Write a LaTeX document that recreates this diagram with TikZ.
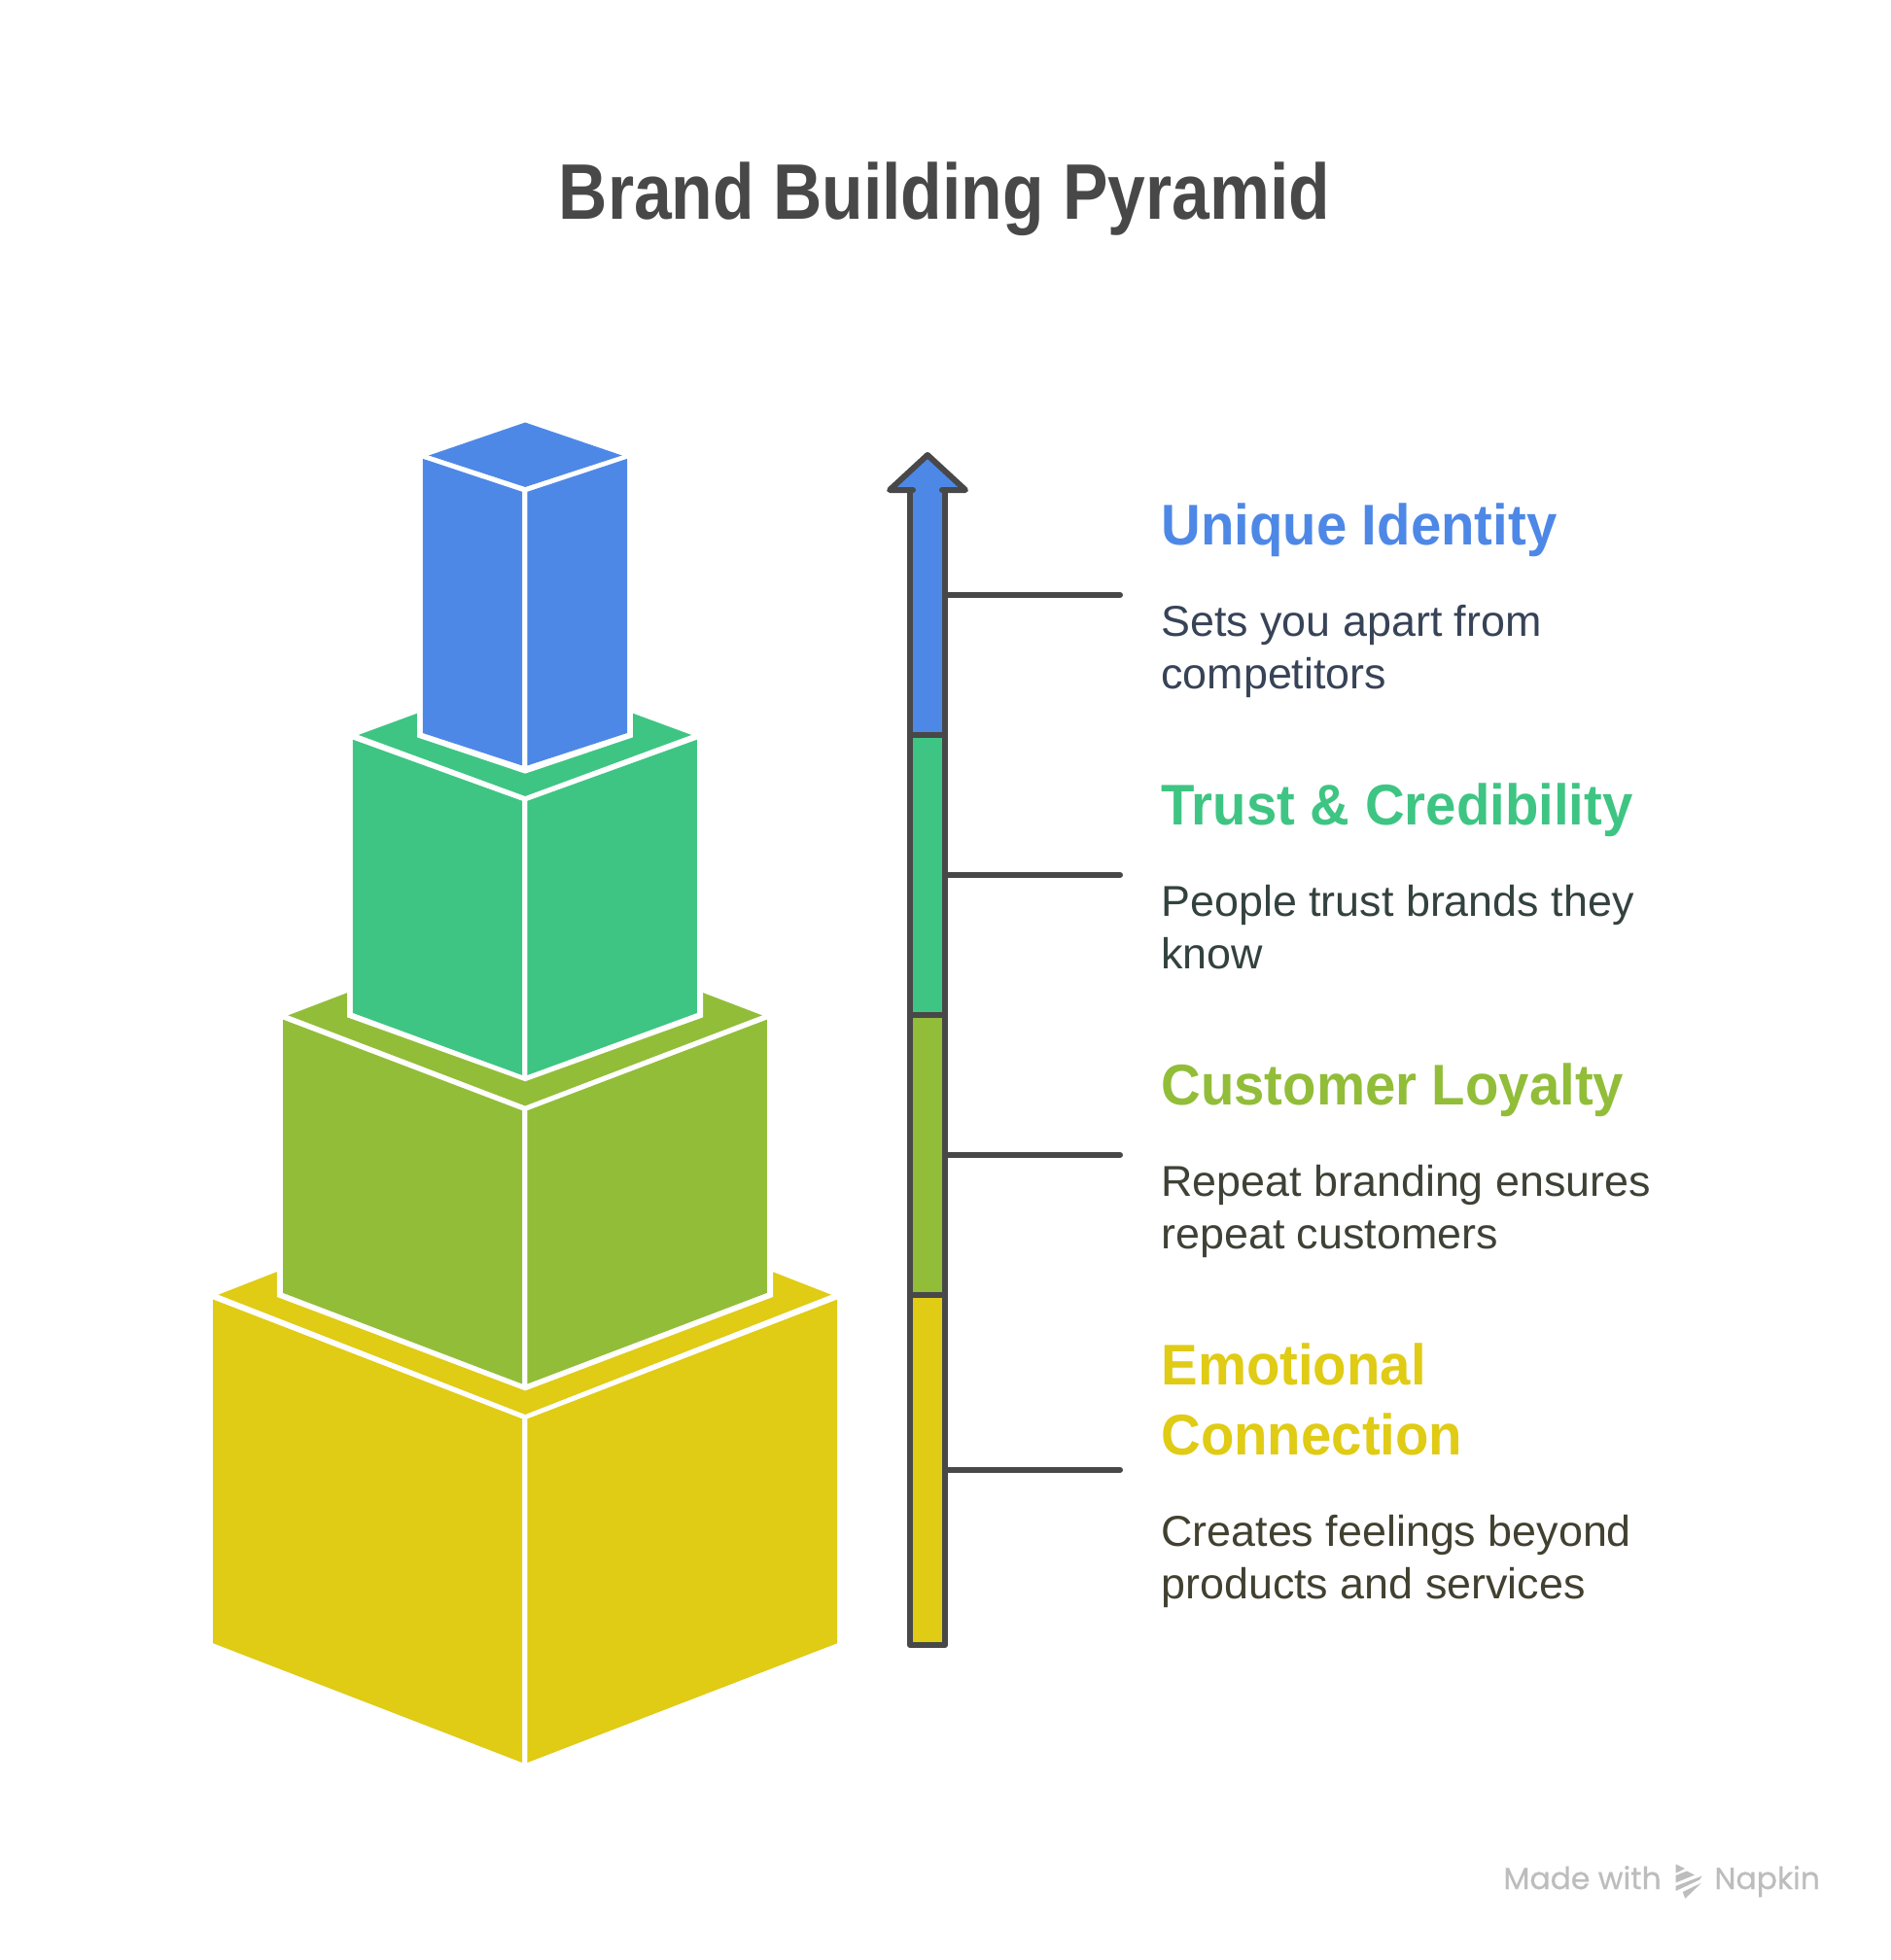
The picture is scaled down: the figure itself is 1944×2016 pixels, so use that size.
\documentclass[tikz,border=0pt]{standalone}
\usepackage{fontspec}
\setmainfont{Liberation Sans}
\newfontfamily\titlefont[FakeStretch=0.86]{Liberation Sans}
\newfontfamily\headfont[FakeStretch=0.955]{Liberation Sans}
\newfontfamily\bodyfont[FakeStretch=1.01]{Liberation Sans}
\newfontfamily\markfont[FakeBold=0.6]{Poppins}
\definecolor{cblue}{HTML}{4E88E7}
\definecolor{cgreen}{HTML}{3EC583}
\definecolor{clime}{HTML}{92BD39}
\definecolor{cyellow}{HTML}{E0CB15}
\definecolor{cdark}{HTML}{484848}
\definecolor{tblue}{HTML}{374357}
\definecolor{tgreen}{HTML}{33423F}
\definecolor{tlime}{HTML}{3E4236}
\definecolor{tyellow}{HTML}{424030}
\definecolor{cmark}{HTML}{BDBDBD}
\tikzset{
  strokeline/.style={draw=cdark,line width=3pt,line cap=round,line join=round},
  headtext/.style={anchor=base west,inner sep=0pt,font=\headfont\bfseries\fontsize{29.5}{36}\selectfont,align=left},
  bodytext/.style={anchor=base west,inner sep=0pt,font=\bodyfont\fontsize{22.2}{27}\selectfont,align=left},
  marktext/.style={anchor=base west,inner sep=0pt,text=cmark,font=\markfont\fontsize{15.7}{18}\selectfont},
  zoomA/.style={x=0.223214pt,y=-0.24237pt,shift={(100pt,-210pt)}},
  zoomB/.style={x=0.223214pt,y=-0.223214pt,shift={(100pt,-575pt)}},
}
\begin{document}
\begin{tikzpicture}[x=0.5pt,y=-0.5pt]
\useasboundingbox (0,0) rectangle (1944,2016);
\fill[white] (0,0) rectangle (1944,2016);
% title
\node[anchor=base,inner sep=0pt,text=cdark,font=\titlefont\bfseries\fontsize{40.5}{48}\selectfont] (title) at (971.5,226) {Brand Building Pyramid};
% yellow block
\begin{scope}[zoomB]
\fill[cyellow] (762,131) -- (1467,407) -- (762,683) -- (55,407) -- cycle;
\fill[cyellow] (43,418) -- (755,693) -- (755,1485) -- (43,1210) -- cycle;
\fill[cyellow] (767,693) -- (1481,418) -- (1481,1210) -- (767,1485) -- cycle;
\fill[white] (190,357) -- (190,412) -- (762,628) -- (1333,412) -- (1333,357) -- (1333,0) -- (190,0) -- cycle;
\end{scope}
% lime, green and blue blocks
\begin{scope}[zoomA]
\fill[clime] (762,1096) -- (1308,1288) -- (762,1480) -- (216,1288) -- cycle;
\fill[white] (352,1240) -- (352,1292) -- (762,1428) -- (1172,1292) -- (1172,1240) -- (1172,1000) -- (352,1000) -- cycle;
\fill[clime] (204,1297) -- (755,1490) -- (755,2070) -- (204,1877) -- cycle;
\fill[clime] (767,1490) -- (1319,1297) -- (1319,1877) -- (767,2070) -- cycle;
\fill[cgreen] (762,563) -- (1145,693) -- (762,823) -- (378,693) -- cycle;
\fill[white] (513,647) -- (513,698) -- (762,775) -- (1010,698) -- (1010,647) -- (1010,500) -- (513,500) -- cycle;
\fill[cgreen] (365,703) -- (755,833) -- (755,1415) -- (365,1283) -- cycle;
\fill[cgreen] (767,833) -- (1158,703) -- (1158,1283) -- (767,1415) -- cycle;
\fill[cblue] (762,30) -- (985,100) -- (762,167) -- (540,100) -- cycle;
\fill[cblue] (526,107) -- (755,177) -- (755,758) -- (526,689) -- cycle;
\fill[cblue] (767,177) -- (997,107) -- (997,689) -- (767,758) -- cycle;
\end{scope}
% arrow fills
\fill[cblue] (936,756) -- (936,504) -- (915,504) -- (954,468) -- (993,504) -- (972,504) -- (972,756) -- cycle;
\fill[cgreen] (936,756) rectangle (972,1044);
\fill[clime] (936,1044) rectangle (972,1332);
\fill[cyellow] (936,1332) rectangle (972,1692);
% arrow outline
\draw[strokeline] (939,504) -- (915,504) -- (954,468) -- (993,504) -- (969,504);
\draw[strokeline] (936,504) -- (936,1692) -- (972,1692) -- (972,504);
\draw[strokeline] (936,756) -- (972,756);
\draw[strokeline] (936,1044) -- (972,1044);
\draw[strokeline] (936,1332) -- (972,1332);
% connectors
\coordinate (a1) at (972,612); \coordinate (b1) at (1152,612);
\coordinate (a2) at (972,900); \coordinate (b2) at (1152,900);
\coordinate (a3) at (972,1188); \coordinate (b3) at (1152,1188);
\coordinate (a4) at (972,1512); \coordinate (b4) at (1152,1512);
\draw[strokeline] (a1) -- (b1);
\draw[strokeline] (a2) -- (b2);
\draw[strokeline] (a3) -- (b3);
\draw[strokeline] (a4) -- (b4);
% labels
\node[headtext,text=cblue] (h1) at (1194,560.5) {Unique Identity};
\node[bodytext,text=tblue] (d1a) at (1194,654.5) {Sets you apart from};
\node[bodytext,text=tblue] (d1b) at (1194,708.5) {competitors};
\node[headtext,text=cgreen] (h2) at (1194,848.5) {Trust \& Credibility};
\node[bodytext,text=tgreen] (d2a) at (1194,942.5) {People trust brands they};
\node[bodytext,text=tgreen] (d2b) at (1194,996.5) {know};
\node[headtext,text=clime] (h3) at (1194,1136.5) {Customer Loyalty};
\node[bodytext,text=tlime] (d3a) at (1194,1230.5) {Repeat branding ensures};
\node[bodytext,text=tlime] (d3b) at (1194,1284.5) {repeat customers};
\node[headtext,text=cyellow] (h4a) at (1194,1424.5) {Emotional};
\node[headtext,text=cyellow] (h4b) at (1194,1496.5) {Connection};
\node[bodytext,text=tyellow] (d4a) at (1194,1590.5) {Creates feelings beyond};
\node[bodytext,text=tyellow] (d4b) at (1194,1644.5) {products and services};
% watermark
\node[marktext] (m1) at (1546,1943) {Made with};
\node[marktext] (m2) at (1763,1943) {Napkin};
\fill[cmark] (1723.5,1917.3) -- (1733,1922) -- (1723.5,1926.7) -- cycle;
\fill[cmark] (1723.5,1929) -- (1735,1924.5) -- (1743,1928.5) -- (1723.5,1936.5) -- cycle;
\fill[cmark] (1723.5,1940) -- (1750.7,1929.5) -- (1748,1933.5) -- (1723.5,1945) -- cycle;
\fill[cmark] (1730.7,1946) -- (1750,1936.7) -- (1733.3,1952.7) -- cycle;
\end{tikzpicture}
\end{document}
